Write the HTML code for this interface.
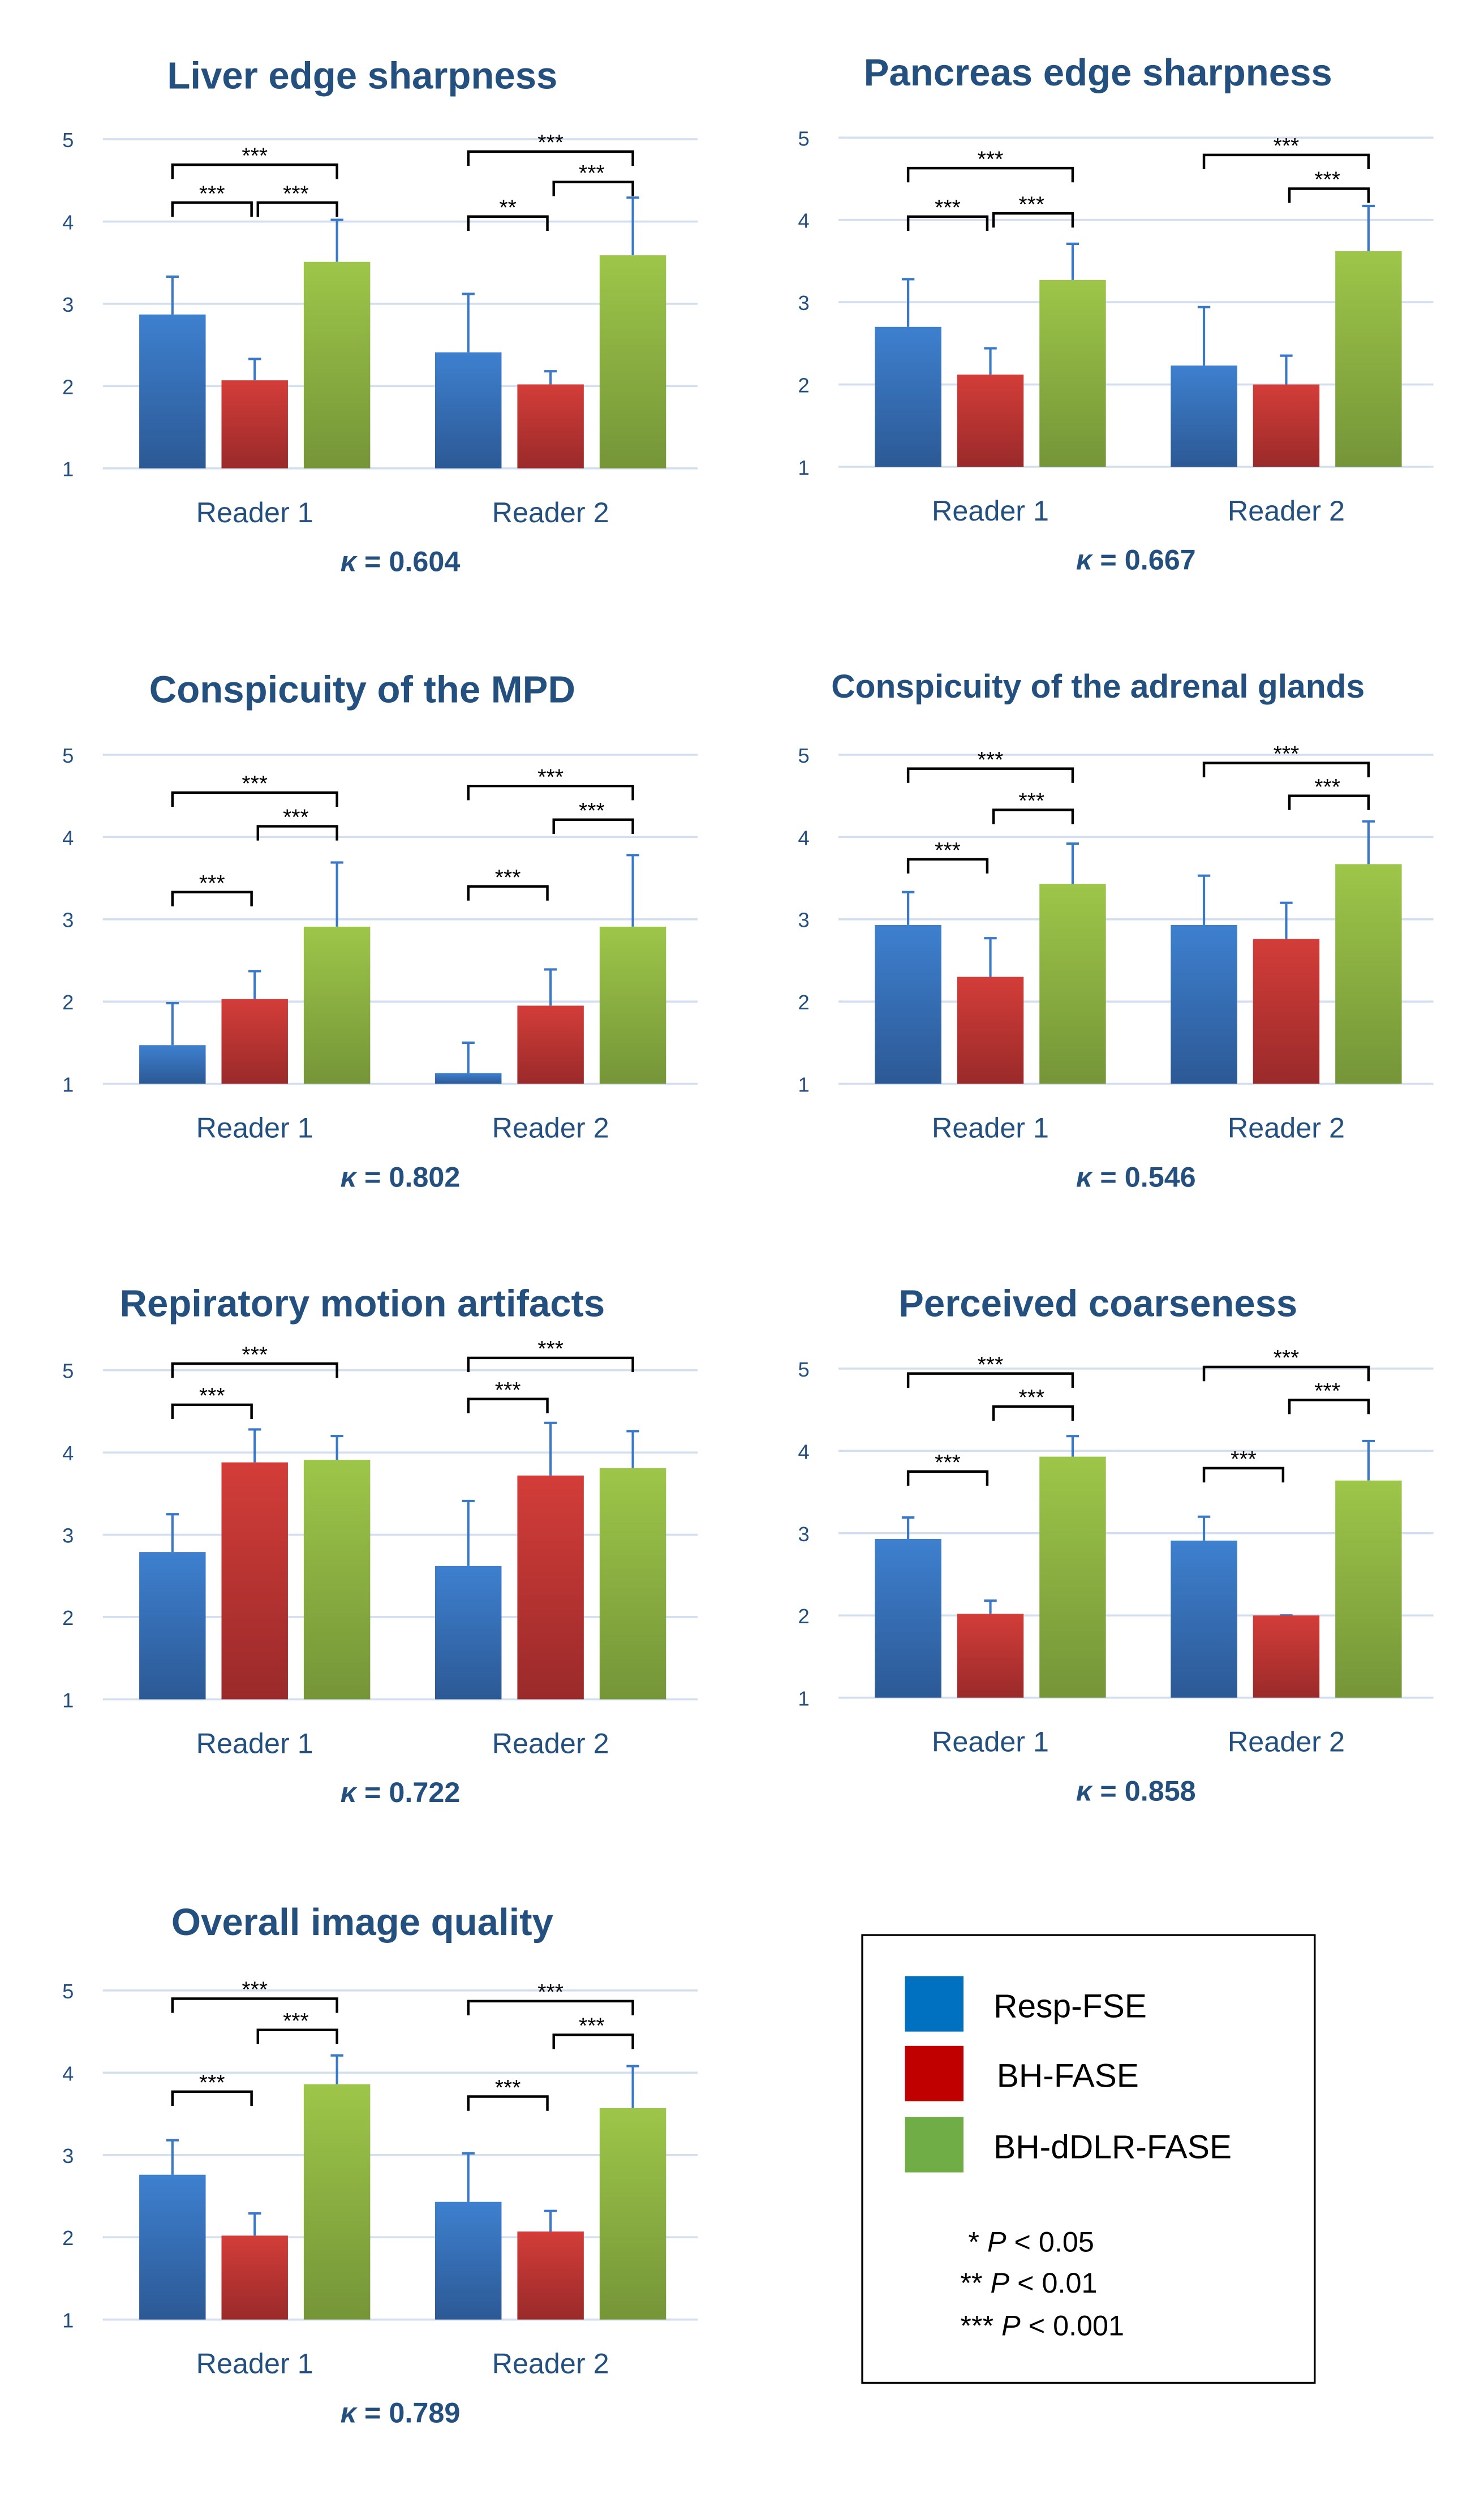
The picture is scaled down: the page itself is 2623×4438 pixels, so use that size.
<!DOCTYPE html>
<html><head><meta charset="utf-8"><style>
html,body{margin:0;padding:0;background:#fff}
svg{display:block}
text{font-family:"Liberation Sans",sans-serif}
</style></head><body>
<svg id="fig" width="2623" height="4438" viewBox="0 0 938 1587" preserveAspectRatio="none" xmlns="http://www.w3.org/2000/svg">
<defs>
<linearGradient id="gb" x1="0" y1="0" x2="0" y2="1"><stop offset="0" stop-color="#3E80CF"/><stop offset="1" stop-color="#2C5995"/></linearGradient>
<linearGradient id="gr" x1="0" y1="0" x2="0" y2="1"><stop offset="0" stop-color="#D33D39"/><stop offset="1" stop-color="#9A2A2A"/></linearGradient>
<linearGradient id="gg" x1="0" y1="0" x2="0" y2="1"><stop offset="0" stop-color="#9DC649"/><stop offset="1" stop-color="#759538"/></linearGradient>
</defs>
<g>
<rect x="545" y="1223" width="286" height="283" fill="none" stroke="#000" stroke-width="1.2"/>
<rect x="572" y="1249" width="37" height="35" fill="#0070C0"/>
<rect x="572" y="1293" width="37" height="35" fill="#C00000"/>
<rect x="572" y="1338" width="37" height="35" fill="#70AD47"/>
<text x="628" y="1275" font-size="21">Resp-FSE</text>
<text x="630" y="1319" font-size="21">BH-FASE</text>
<text x="628" y="1364" font-size="21">BH-dDLR-FASE</text>
<text x="612" y="1423" font-size="18">* <tspan font-style="italic">P</tspan> &lt; 0.05</text>
<text x="607" y="1449" font-size="18">** <tspan font-style="italic">P</tspan> &lt; 0.01</text>
<text x="607" y="1476" font-size="18">*** <tspan font-style="italic">P</tspan> &lt; 0.001</text>
</g>
</svg>
<script>
const titles=["Liver edge sharpness","Pancreas edge sharpness","Conspicuity of the MPD","Conspicuity of the adrenal glands","Repiratory motion artifacts","Perceived coarseness","Overall image quality"];
const kappas=["0.604","0.667","0.802","0.546","0.722","0.858","0.789"];
const readers=["Reader 1","Reader 2"];
const ticks=[1,2,3,4,5];
// means [chart][reader][series]
const means=[
[[2.87,2.07,3.51],[2.41,2.02,3.59]],
[[2.70,2.12,3.27],[2.23,2.00,3.62]],
[[1.47,2.03,2.91],[1.13,1.95,2.91]],
[[2.93,2.30,3.43],[2.93,2.76,3.67]],
[[2.79,3.88,3.91],[2.62,3.72,3.81]],
[[2.93,2.02,3.93],[2.91,2.00,3.64]],
[[2.76,2.02,3.86],[2.43,2.07,3.57]]];
const errTops=[
[[3.33,2.33,4.02],[3.12,2.18,4.29]],
[[3.28,2.44,3.71],[2.94,2.35,4.17]],
[[1.98,2.37,3.69],[1.50,2.39,3.78]],
[[3.33,2.77,3.92],[3.53,3.20,4.19]],
[[3.25,4.28,4.20],[3.41,4.36,4.26]],
[[3.19,2.18,4.18],[3.20,2.00,4.12]],
[[3.18,2.29,4.21],[3.02,2.32,4.08]]];
// brackets: [reader, from, to, level, stars]
const brackets=[
[[0,0,1,4.23,"***"],[0,1,2,4.23,"***"],[0,0,2,4.69,"***"],[1,0,1,4.06,"**"],[1,1,2,4.48,"***"],[1,0,2,4.85,"***"]],
[[0,0,1,4.04,"***"],[0,1,2,4.08,"***"],[0,0,2,4.63,"***"],[1,1,2,4.38,"***"],[1,0,2,4.79,"***"]],
[[0,0,1,3.33,"***"],[0,1,2,4.13,"***"],[0,0,2,4.54,"***"],[1,0,1,3.40,"***"],[1,1,2,4.21,"***"],[1,0,2,4.62,"***"]],
[[0,0,1,3.73,"***"],[0,1,2,4.33,"***"],[0,0,2,4.83,"***"],[1,1,2,4.50,"***"],[1,0,2,4.90,"***"]],
[[0,0,1,4.58,"***"],[0,0,2,5.08,"***"],[1,0,1,4.65,"***"],[1,0,2,5.15,"***"]],
[[0,0,1,3.75,"***"],[0,1,2,4.54,"***"],[0,0,2,4.94,"***"],[1,0,1,3.79,"***"],[1,1,2,4.62,"***"],[1,0,2,5.02,"***"]],
[[0,0,1,3.77,"***"],[0,1,2,4.52,"***"],[0,0,2,4.90,"***"],[1,0,1,3.71,"***"],[1,1,2,4.46,"***"],[1,0,2,4.87,"***"]]];
const seriesNames=["resp-fse","bh-fase","bh-ddlr-fase"];

const NS="http://www.w3.org/2000/svg";
const svg=document.getElementById('fig');
function mk(tag,attrs,parent,txt){const e=document.createElementNS(NS,tag);for(const k in attrs)e.setAttribute(k,attrs[k]);if(txt!==undefined)e.textContent=txt;parent.appendChild(e);return e;}
const layout=[
[65,296,48,24],[530,295,46,24],[65,685,436,24],[530,685,433,21],[65,1074,824,24],[530,1073,824,24],[65,1466,1215,24]];
const fills=["url(#gb)","url(#gr)","url(#gg)"];
for(let c=0;c<titles.length;c++){
  const [x0,yb,ty,ts]=layout[c];
  const yS=v=>yb-(v-1)*52;
  const xS=(r,s)=>x0+23+r*187+s*52;
  const g=mk('g',{},svg);
  
  
  const t=mk('text',{x:x0+164,y:ty+8,'font-size':ts,'font-weight':'bold','text-anchor':'middle',fill:'#24507F'},g,titles[c]);
  
  
  ticks.forEach(v=>{
    const l=mk('line',{x1:x0,x2:x0+376,y1:yS(v),y2:yS(v),stroke:'#D3DFEE','stroke-width':1.3},g);
    
    
    const tl=mk('text',{x:x0-22,y:yS(v)+5,'font-size':13,'text-anchor':'middle',fill:'#24507F'},g,String(v));
    
    
  });
  for(let r=0;r<2;r++){
    for(let s=0;s<3;s++){
      const x=xS(r,s),m=means[c][r][s],e=errTops[c][r][s];
      const el=mk('line',{x1:x+21,x2:x+21,y1:yS(e),y2:yS(m),stroke:'#3A78C8','stroke-width':1.5},g);
      
      
      mk('line',{x1:x+17,x2:x+25,y1:yS(e),y2:yS(e),stroke:'#3A78C8','stroke-width':1.5},g);
      const b=mk('rect',{x:x,y:yS(m),width:42,height:yS(1)-yS(m),fill:fills[s]},g);
      
      
    }
    const rl=mk('text',{x:xS(r,1)+21,y:yb+34,'font-size':18,'text-anchor':'middle',fill:'#24507F'},g,readers[r]);
    
    
  }
  brackets[c].forEach(bk=>{
    const [r,a,b2,lv,st]=bk;
    const xa=xS(r,a)+21,xb=xS(r,b2)+21-(b2-a===1&&a===0?2:0),y=yS(lv);
    const p=mk('path',{d:`M${xa+(a===1?2:0)} ${y+9}V${y}H${xb}V${y+9}`,fill:'none',stroke:'#000','stroke-width':1.6},g);
    
    
    const sl=mk('text',{x:(xa+xb)/2,y:y-1,'font-size':14,'text-anchor':'middle',fill:'#000'},g,st);
    
    
  });
  const k=mk('text',{x:x0+188,y:yb+65,'font-size':18,'font-weight':'bold','text-anchor':'middle',fill:'#24507F'},g);
  
  
  mk('tspan',{'font-style':'italic'},k,'κ');
  mk('tspan',{},k,' = '+kappas[c]);
}
</script>
</body></html>
